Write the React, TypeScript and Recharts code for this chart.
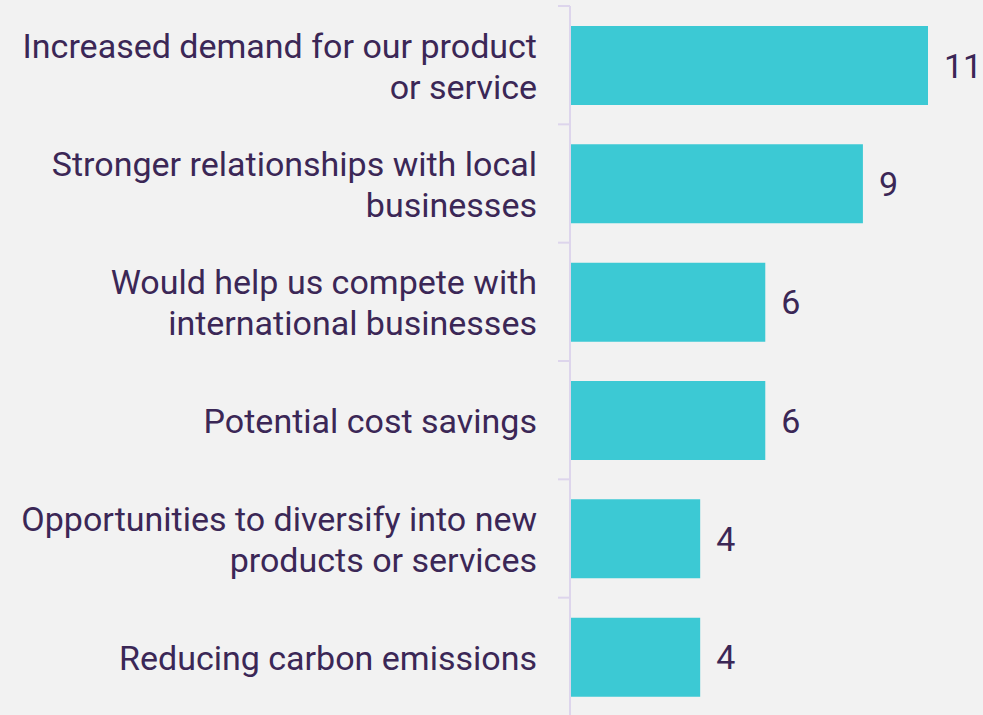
import React from "react";
import { BarChart, Bar, XAxis, YAxis, LabelList } from "recharts";

const categories = [
  "Increased demand for our product\nor service",
  "Stronger relationships with local\nbusinesses",
  "Would help us compete with\ninternational businesses",
  "Potential cost savings",
  "Opportunities to diversify into new\nproducts or services",
  "Reducing carbon emissions",
];
const values = [11, 9, 6, 6, 4, 4];

const data = categories.map((name, i) => ({ name, value: values[i] }));

const W = 983;
const H = 716;
const TOP = 6;
const AXIS_W = 570;
const PLOT_H = H - TOP;
const BAND = PLOT_H / categories.length;
const TEXT = "#3b2756";
const FONT = "Roboto, sans-serif";
const FS = 34;
const LINE_H = 41;

const CatTick = (props: any) => {
  const { y, payload } = props;
  const lines = String(payload.value).split("\n");
  const n = lines.length;
  const top = y - BAND / 2;
  return (
    <g>
      <line x1={AXIS_W - 12} x2={AXIS_W} y1={top} y2={top} stroke="#ddd5ec" strokeWidth={2} />
      <text x={AXIS_W - 33} textAnchor="end" fill={TEXT} fontSize={FS} fontFamily={FONT}>
        {lines.map((l, i) => (
          <tspan key={i} x={AXIS_W - 33} y={y + 13 + (i - (n - 1) / 2) * LINE_H}>
            {l}
          </tspan>
        ))}
      </text>
    </g>
  );
};

export default function App() {
  return (
    <div
      style={{
        position: "absolute",
        left: 0,
        top: 0,
        width: W,
        height: 715,
        overflow: "hidden",
        background: "#f2f2f2",
      }}
    >
      <BarChart
        width={W}
        height={H}
        data={data}
        layout="vertical"
        margin={{ top: TOP, right: 55, bottom: 0, left: 0 }}
        barSize={79}
      >
        <XAxis type="number" domain={[0, 11]} hide />
        <YAxis
          type="category"
          dataKey="name"
          width={AXIS_W}
          axisLine={{ stroke: "#ddd5ec", strokeWidth: 2 }}
          tickLine={false}
          tick={<CatTick />}
          interval={0}
        />
        <Bar dataKey="value" fill="#3cc9d4" isAnimationActive={false}>
          <LabelList
            dataKey="value"
            position="right"
            offset={16}
            fill={TEXT}
            fontSize={FS}
            fontFamily={FONT}
          />
        </Bar>
      </BarChart>
    </div>
  );
}
